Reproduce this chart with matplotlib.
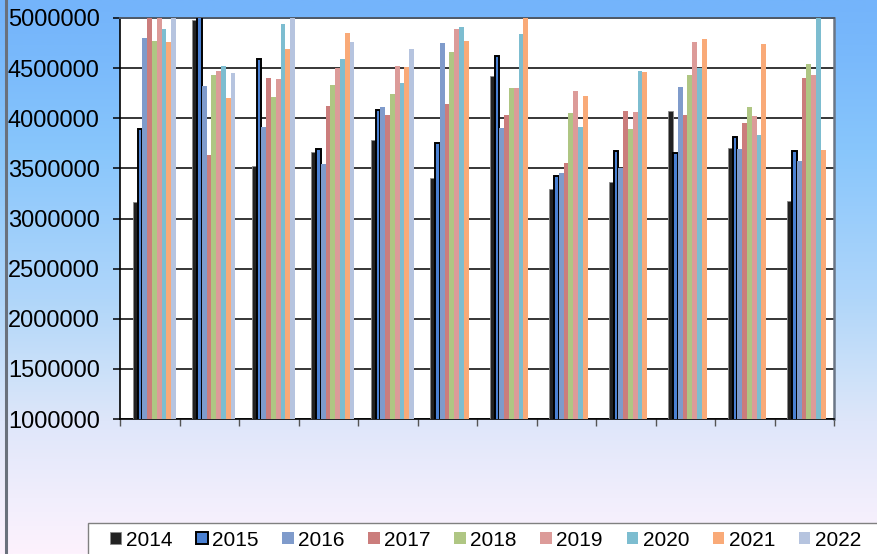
import numpy as np
import matplotlib
matplotlib.use("Agg")
import matplotlib.pyplot as plt
from matplotlib.patches import Patch, Rectangle
from matplotlib.lines import Line2D
from matplotlib.colors import to_rgb

plt.rcParams['font.family'] = ['Liberation Sans', 'DejaVu Sans']

months = list(range(1, 13))
years = ["2014", "2015", "2016", "2017", "2018", "2019", "2020", "2021", "2022"]
nan = np.nan

v2014 = [3166000, 4983000, 3520000, 3663000, 3786000, 3400000, 4426000, 3293000, 3363000, 4073000, 3703000, 3176000]
v2015 = [3896000, 5060000, 4596000, 3693000, 4086000, 3750000, 4616000, 3423000, 3673000, 3653000, 3810000, 3673000]
v2016 = [4800000, 4326000, 3916000, 3543000, 4113000, 4750000, 3903000, 3456000, 3500000, 4310000, 3693000, 3573000]
v2017 = [5080000, 3630000, 4406000, 4126000, 4030000, 4143000, 4033000, 3556000, 4076000, 4033000, 3953000, 4403000]
v2018 = [4766000, 4433000, 4213000, 4333000, 4240000, 4663000, 4306000, 4050000, 3893000, 4433000, 4113000, 4540000]
v2019 = [5050000, 4476000, 4390000, 4503000, 4526000, 4893000, 4300000, 4270000, 4066000, 4763000, 4020000, 4430000]
v2020 = [4893000, 4523000, 4936000, 4593000, 4350000, 4910000, 4836000, 3910000, 4473000, 4503000, 3830000, 5100000]
v2021 = [4756000, 4200000, 4690000, 4853000, 4516000, 4773000, 5040000, 4220000, 4463000, 4793000, 4740000, 3683000]
v2022 = [5060000, 4453000, 5070000, 4763000, 4690000, nan, nan, nan, nan, nan, nan, nan]
series = [v2014, v2015, v2016, v2017, v2018, v2019, v2020, v2021, v2022]

yticks = [1000000, 1500000, 2000000, 2500000, 3000000, 3500000, 4000000, 4500000, 5000000]

colors = ['#222222', '#4a80d2', '#7f9bcb', '#cb7d7c', '#afc683', '#dc9b99', '#7dbdd0', '#f9aa78', '#b6c4df']

W, H = 877, 554
fig = plt.figure(figsize=(W / 100, H / 100), dpi=100)

# background gradient
bg = fig.add_axes([0, 0, 1, 1], zorder=-10)
stops = [(0.0, '#74b4fb'), (0.1, '#79b9fb'), (0.27, '#88c6fc'), (0.54, '#b0d6fa'),
         (0.69, '#cfe2f9'), (0.76, '#dee6fa'), (0.9, '#f1eefc'), (1.0, '#fdf2fd')]
ys = np.linspace(0, 1, 400)
sp = [s[0] for s in stops]
cols = np.array([to_rgb(s[1]) for s in stops])
grad = np.stack([np.interp(ys, sp, cols[:, k]) for k in range(3)], axis=-1)[:, None, :]
bg.imshow(grad, aspect='auto', extent=[0, 1, 0, 1], origin='upper')
bg.set_xlim(0, 1); bg.set_ylim(0, 1)
bg.axis('off')

ax = fig.add_axes([120 / W, 1 - 419 / H, (834 - 120) / W, (419 - 18) / H], zorder=1)
ax.set_facecolor('white')

x = np.arange(len(months))
bw = 4.8 / 59.5
off0 = 0.215
for i, (vals, c) in enumerate(zip(series, colors)):
    left = x + off0 + i * bw
    if i == 0:
        ax.bar(left, vals, width=bw, align='edge', color=c, edgecolor='#8a8a8a', linewidth=0.6, zorder=3)
    elif i == 1:
        ax.bar(left, vals, width=bw, align='edge', color=c, edgecolor='black', linewidth=1.4, zorder=3)
    else:
        ax.bar(left, vals, width=bw, align='edge', color=c, edgecolor='none', linewidth=0, zorder=3)

ax.set_xlim(0, 12)
ax.set_ylim(1000000, 5000000)
ax.set_yticks(yticks)
ax.set_yticklabels([str(t) for t in yticks], fontsize=17)
ax.set_xticks(np.arange(0, 13))
ax.tick_params(axis='x', direction='out', length=5, width=1, color='#555555', labelbottom=False)
ax.tick_params(axis='y', direction='out', length=5, width=1.1, color='black', pad=9.5)
ax.yaxis.grid(True, color='black', linewidth=1.1, zorder=1)
ax.set_axisbelow(True)
for s in ['left', 'bottom']:
    ax.spines[s].set_color('black')
    ax.spines[s].set_linewidth(1.2)
ax.spines['top'].set_color('#4f5a68')
ax.spines['top'].set_linewidth(1.4)
ax.spines['right'].set_color('#6b7686')
ax.spines['right'].set_linewidth(1.8)

# left border of chart area
fig.add_artist(Line2D([6 / W, 6 / W], [0, 1], transform=fig.transFigure, color='#6a717c', linewidth=2.2))

# legend frame
fig.add_artist(Rectangle((88 / W, -0.05), 1.0, 0.05 + (554 - 523) / H, transform=fig.transFigure,
                         facecolor='white', edgecolor='#808080', linewidth=1.0, zorder=2))
handles = []
for i, c in enumerate(colors):
    if i == 0:
        handles.append(Patch(facecolor=c, edgecolor='#8a8a8a', linewidth=0.6))
    elif i == 1:
        handles.append(Patch(facecolor=c, edgecolor='black', linewidth=1.4))
    else:
        handles.append(Patch(facecolor=c, edgecolor='none'))
leg = fig.legend(handles, years, ncol=9, loc='center left', bbox_to_anchor=(110 / W, 1 - 540 / H),
                 frameon=False, fontsize=15, handlelength=0.55, handleheight=0.55,
                 handletextpad=0.22, columnspacing=1.13, borderpad=0, borderaxespad=0)
leg.set_zorder(5)

fig.savefig('out.png', dpi=100)
